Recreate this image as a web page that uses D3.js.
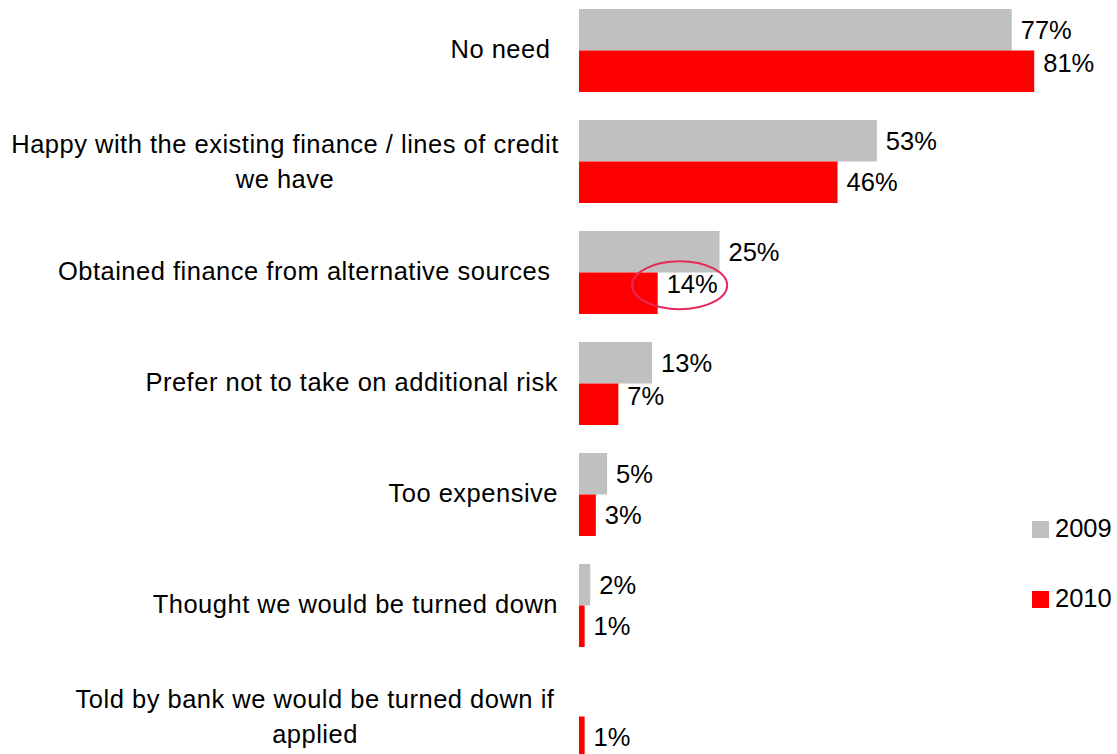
<!DOCTYPE html>
<html>
<head>
<meta charset="utf-8">
<script src="https://cdn.jsdelivr.net/npm/d3@7/dist/d3.min.js"></script>
<style>
  html, body { margin: 0; padding: 0; background: #fff; }
  svg { display: block; font-family: Arial, "Liberation Sans", sans-serif; }
</style>
</head>
<body>
<svg id="chart" width="1117" height="754"></svg>
<script>
// Reasons for not applying for finance, 2009 vs 2010 (% of respondents)
const categories = [
  ["No need"],
  ["Happy with the existing finance / lines of credit", "we have"],
  ["Obtained finance from alternative sources"],
  ["Prefer not to take on additional risk"],
  ["Too expensive"],
  ["Thought we would be turned down"],
  ["Told by bank we would be turned down if", "applied"]
];
const seriesNames = ["2009", "2010"];
const values2009 = [77, 53, 25, 13, 5, 2, null];
const values2010 = [81, 46, 14, 7, 3, 1, 1];
const seriesColors = ["#C0C0C0", "#FF0000"];

// Layout tweaks: some value labels are lifted off their bar centre,
// some category labels end with a trailing space, wrapped labels are centred.
const labelLift2010 = { 0: -8, 2: -9, 3: -8 };
const trailingSpace = { 0: true, 2: true };
const wrapCentre = { 1: 285, 6: 315 };
const highlightIndex = 2;

const svg = d3.select("#chart");
const W = 1117, H = 754;
svg.append("rect").attr("width", W).attr("height", H).attr("fill", "#fff");

const fontSize = 25.5;
const catSpacing = 0.5;
const x0 = 579;
const x = d3.scaleLinear().domain([0, 100]).range([x0, x0 + 562]);

const y = d3.scaleBand()
  .domain(d3.range(categories.length))
  .range([9, 758])
  .paddingInner(28 / 111)
  .paddingOuter(0);

const ySub = d3.scaleBand()
  .domain(seriesNames)
  .range([0, y.bandwidth()])
  .padding(0);

const seriesData = [values2009, values2010];

const groups = svg.append("g").selectAll("g.cat")
  .data(categories.map((c, i) => i))
  .join("g")
  .attr("class", "cat")
  .attr("transform", i => `translate(0,${y(i)})`);

seriesNames.forEach((name, s) => {
  const vals = seriesData[s];
  groups.filter(i => vals[i] != null)
    .append("rect")
    .attr("x", x0)
    .attr("y", ySub(name))
    .attr("width", i => x(vals[i]) - x0)
    .attr("height", ySub.bandwidth())
    .attr("fill", seriesColors[s]);

  groups.filter(i => vals[i] != null)
    .append("text")
    .attr("x", i => x(vals[i]) + 9)
    .attr("y", i => ySub(name) + ySub.bandwidth() / 2 + fontSize * 0.35 + (s === 1 ? (labelLift2010[i] || 0) : 0))
    .attr("font-size", fontSize)
    .attr("fill", "#000")
    .text(i => vals[i] + "%");
});

// Category labels
groups.each(function (i) {
  const g = d3.select(this);
  const lines = categories[i];
  const cy = y.bandwidth() / 2;
  if (lines.length === 1) {
    g.append("text")
      .attr("x", 558)
      .attr("y", cy + fontSize * 0.3)
      .attr("text-anchor", "end")
      .attr("font-size", fontSize)
      .attr("letter-spacing", catSpacing)
      .style("white-space", "pre")
      .text(lines[0] + (trailingSpace[i] ? " " : ""));
  } else {
    const lh = 34.5;
    lines.forEach((ln, k) => {
      g.append("text")
        .attr("x", wrapCentre[i])
        .attr("y", cy + (k - (lines.length - 1) / 2) * lh + fontSize * 0.35)
        .attr("text-anchor", "middle")
        .attr("font-size", fontSize)
        .attr("letter-spacing", catSpacing)
        .text(ln);
    });
  }
});

// Highlight ring around the 2010 value of the alternative-sources row
{
  const i = highlightIndex;
  const cx = x(values2010[i]) + 22;
  const cy = y(i) + ySub("2010") + ySub.bandwidth() / 2 - 8;
  svg.append("ellipse")
    .attr("cx", cx)
    .attr("cy", cy)
    .attr("rx", 47.5)
    .attr("ry", 24)
    .attr("fill", "none")
    .attr("stroke", "#E52A5A")
    .attr("stroke-width", 2);
}

// Legend
const legend = svg.append("g").attr("transform", "translate(1032,521)");
seriesNames.forEach((name, s) => {
  const lg = legend.append("g").attr("transform", `translate(0,${s * 70})`);
  lg.append("rect").attr("width", 17).attr("height", 17).attr("fill", seriesColors[s]);
  lg.append("text")
    .attr("x", 23)
    .attr("y", 16)
    .attr("font-size", fontSize)
    .text(name);
});
</script>
</body>
</html>
